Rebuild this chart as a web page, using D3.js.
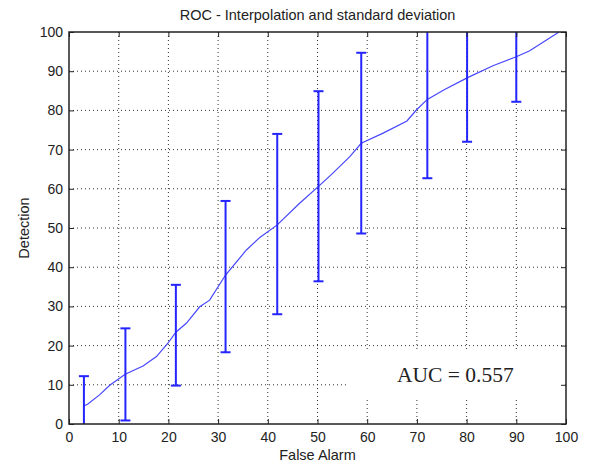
<!DOCTYPE html>
<html>
<head>
<meta charset="utf-8">
<script src="https://d3js.org/d3.v7.min.js"></script>
<style>
  body { margin: 0; background: #fff; }
  text { font-family: "Liberation Sans", Arial, sans-serif; fill: #222; }
</style>
</head>
<body>
<svg id="chart" width="592" height="467"></svg>
<script>
// mean ROC curve (false alarm %, detection %)
var curveX = [3.0, 3.8, 6.2, 8.2, 11.3, 14.9, 17.6, 19.9, 21.5, 23.6, 26.3, 28.3, 31.5, 35.7, 38.4, 41.9, 46.4, 50.1, 53.1, 56.5, 58.8, 63.2, 68.0, 69.9, 72.1, 75.4, 80.1, 85.3, 90.0, 92.7, 98.6];
var curveY = [4.6, 5.1, 7.5, 9.9, 12.7, 14.8, 17.2, 20.6, 23.4, 25.7, 29.9, 31.6, 38.0, 44.4, 47.6, 50.8, 56.3, 60.5, 64.0, 68.2, 71.6, 74.2, 77.3, 80.1, 82.8, 85.2, 88.3, 91.4, 93.7, 95.2, 100];

// error bars: position, lower and upper limits (std deviation)
var barX    = [3.0, 11.35, 21.5, 31.5, 41.9, 50.2, 58.8, 72.1, 80.1, 90.0];
var barLow  = [-3.0, 0.9, 9.8, 18.3, 28.0, 36.4, 48.6, 62.7, 72.0, 82.2];
var barHigh = [12.2, 24.4, 35.5, 56.9, 74.0, 84.9, 94.7, 102.9, 104.6, 105.2];

var ticks = [0, 10, 20, 30, 40, 50, 60, 70, 80, 90, 100];
var aucLabel = "AUC = 0.557";

var svg = d3.select("#chart");
var m = { left: 69, right: 26, top: 32, bottom: 43 };
var w = 592 - m.left - m.right, h = 467 - m.top - m.bottom;

var x = d3.scaleLinear().domain([0, 100]).range([0, w]);
var y = d3.scaleLinear().domain([0, 100]).range([h, 0]);

var g = svg.append("g").attr("transform", "translate(" + m.left + "," + m.top + ")");

g.append("clipPath").attr("id", "clip")
  .append("rect").attr("width", w).attr("height", h);

// dotted grid
g.selectAll(".gx").data(ticks.slice(1, -1)).enter().append("line")
  .attr("x1", d => x(d)).attr("x2", d => x(d)).attr("y1", 0).attr("y2", h)
  .attr("stroke", "#333").attr("stroke-width", 1).attr("stroke-dasharray", "1,3");
g.selectAll(".gy").data(ticks.slice(1, -1)).enter().append("line")
  .attr("x1", 0).attr("x2", w).attr("y1", d => y(d)).attr("y2", d => y(d))
  .attr("stroke", "#333").attr("stroke-width", 1).attr("stroke-dasharray", "1,3");

// white box behind the AUC text
g.append("rect")
  .attr("x", x(56)).attr("y", y(18.5)).attr("width", w - x(56) - 1).attr("height", y(6.3) - y(18.5))
  .attr("fill", "#fff");

var plot = g.append("g").attr("clip-path", "url(#clip)");

// curve
plot.append("path")
  .datum(d3.range(curveX.length))
  .attr("fill", "none").attr("stroke", "#4646ff").attr("stroke-width", 1.2)
  .attr("d", d3.line().x(i => x(curveX[i])).y(i => y(curveY[i])));

// error bars
var bars = plot.selectAll(".bar").data(d3.range(barX.length)).enter().append("g")
  .attr("stroke", "#2424ff").attr("stroke-width", 2);
bars.append("line")
  .attr("x1", i => x(barX[i])).attr("x2", i => x(barX[i]))
  .attr("y1", i => y(barLow[i])).attr("y2", i => y(barHigh[i]));
bars.append("line")
  .attr("x1", i => x(barX[i]) - 5).attr("x2", i => x(barX[i]) + 5)
  .attr("y1", i => y(barLow[i])).attr("y2", i => y(barLow[i]));
bars.append("line")
  .attr("x1", i => x(barX[i]) - 5).attr("x2", i => x(barX[i]) + 5)
  .attr("y1", i => y(barHigh[i])).attr("y2", i => y(barHigh[i]));

// axes with inward ticks on all four sides
function styleAxis(sel) {
  sel.select(".domain").remove();
  sel.selectAll(".tick line").attr("stroke", "#222");
  sel.selectAll(".tick text").style("font-size", "14px").attr("fill", "#222");
}
g.append("g").attr("transform", "translate(0," + h + ")")
  .call(d3.axisBottom(x).tickValues(ticks).tickSizeInner(-5).tickPadding(8))
  .call(styleAxis);
g.append("g")
  .call(d3.axisLeft(y).tickValues(ticks).tickSizeInner(-5).tickPadding(6))
  .call(styleAxis);
g.append("g")
  .call(d3.axisTop(x).tickValues(ticks).tickSizeInner(-5).tickFormat(""))
  .call(styleAxis);
g.append("g").attr("transform", "translate(" + w + ",0)")
  .call(d3.axisRight(y).tickValues(ticks).tickSizeInner(-5).tickFormat(""))
  .call(styleAxis);

g.append("rect").attr("width", w).attr("height", h)
  .attr("fill", "none").attr("stroke", "#222").attr("stroke-width", 1.5);

// texts
g.append("text").attr("x", x(66)).attr("y", y(10.6))
  .style("font-family", "'Liberation Serif', 'Times New Roman', serif")
  .style("font-size", "21.5px").attr("fill", "#111")
  .text(aucLabel);

svg.append("text").attr("x", m.left + w / 2).attr("y", 20)
  .attr("text-anchor", "middle").style("font-size", "14.5px")
  .text("ROC - Interpolation and standard deviation");
svg.append("text").attr("x", m.left + w / 2).attr("y", 460)
  .attr("text-anchor", "middle").style("font-size", "14.5px")
  .text("False Alarm");
svg.append("text").attr("transform", "translate(29," + (m.top + h / 2) + ") rotate(-90)")
  .attr("text-anchor", "middle").style("font-size", "14.5px")
  .text("Detection");
</script>
</body>
</html>
